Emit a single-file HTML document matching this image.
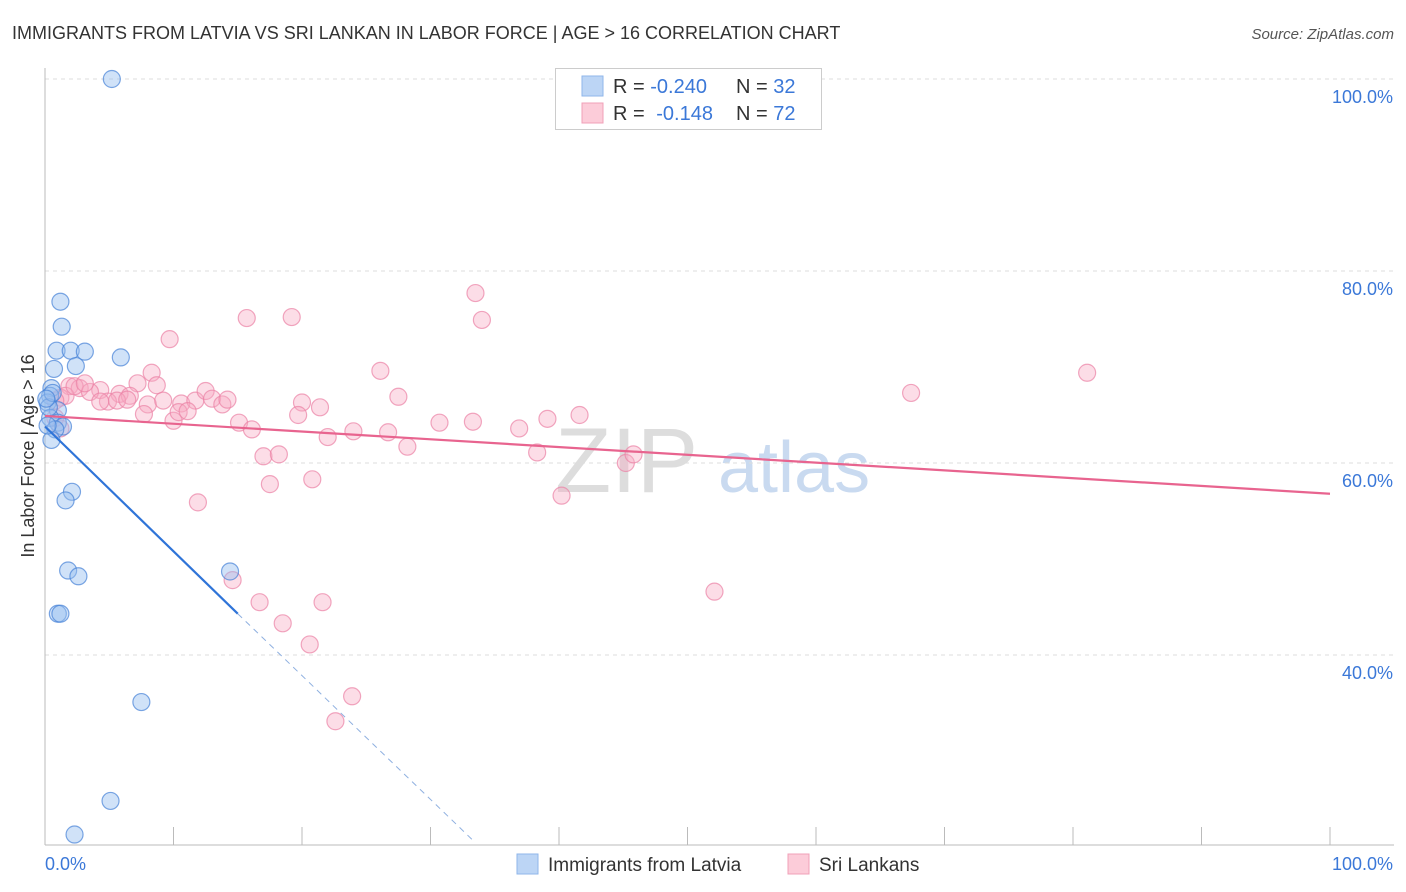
<!DOCTYPE html>
<html><head><meta charset="utf-8"><style>
body{margin:0;background:#fff;font-family:"Liberation Sans",sans-serif;overflow:hidden;width:1406px;height:892px;}
svg{display:block;}
svg text{font-family:"Liberation Sans",sans-serif;}
</style></head><body>
<svg id="chart" width="1406" height="892" xmlns="http://www.w3.org/2000/svg">
<text x="12" y="39" font-size="18" fill="#333">IMMIGRANTS FROM LATVIA VS SRI LANKAN IN LABOR FORCE | AGE &gt; 16 CORRELATION CHART</text>
<text x="1394" y="39" font-size="15" fill="#555" font-style="italic" text-anchor="end">Source: ZipAtlas.com</text>
<g>
<text x="555" y="492" font-size="92" fill="#ddd" font-family="Liberation Serif">ZIP</text>
<text x="718" y="492" font-size="72" fill="#c9daf0">atlas</text>
</g>
<g id="grid"></g>
<g id="axes"></g>
<g id="pts"></g>
<g id="trend"></g>
<g>
<rect x="555.5" y="68.5" width="266" height="61" fill="#fff" stroke="#ccc"/>
<rect x="582" y="76" width="21" height="20" fill="#bcd5f5" stroke="#8fb6ea"/>
<rect x="582" y="103" width="21" height="20" fill="#fcccd9" stroke="#f0a0b8"/>
<text x="613" y="93" font-size="20" fill="#333">R = <tspan fill="#3b78d8">-0.240</tspan></text>
<text x="736" y="93" font-size="20" fill="#333">N = <tspan fill="#3b78d8">32</tspan></text>
<text x="613" y="120" font-size="20" fill="#333">R = <tspan fill="#3b78d8" dx="6">-0.148</tspan></text>
<text x="736" y="120" font-size="20" fill="#333">N = <tspan fill="#3b78d8">72</tspan></text>
</g>
<text x="34" y="456" font-size="18" fill="#333" text-anchor="middle" transform="rotate(-90 34 456)">In Labor Force | Age &gt; 16</text>
<g>
<rect x="517" y="854" width="21" height="20" fill="#bcd5f5" stroke="#8fb6ea"/>
<text x="548" y="871" font-size="19" fill="#333">Immigrants from Latvia</text>
<rect x="788" y="854" width="21" height="20" fill="#fcccd9" stroke="#f0a0b8"/>
<text x="819" y="871" font-size="19" fill="#333">Sri Lankans</text>
</g>
</svg>
<script>
const yTicks=[100,80,60,40];
const yTickLabels=["100.0%","80.0%","60.0%","40.0%"];
const xTicks=[0,10,20,30,40,50,60,70,80,90,100];
const latviaX=[5.2,1.2,1.3,0.9,2.0,3.1,5.9,0.7,2.4,0.5,0.4,0.2,1.0,0.4,1.0,1.4,0.8,0.5,2.1,1.6,1.8,2.6,1.0,1.2,14.4,7.5,5.1,2.3,0.2,0.3,0.6,0.1];
const latviaY=[100,76.8,74.2,71.7,71.7,71.6,71.0,69.8,70.1,67.8,67.0,66.3,65.5,64.7,64.2,63.8,63.5,62.4,57.0,56.1,48.8,48.2,44.3,44.3,48.7,35.1,24.8,21.3,63.9,65.8,67.3,66.7];
const lankaX=[9.7,15.7,19.2,33.5,34.0,26.1,81.1,67.4,27.5,8.3,8.7,7.2,1.9,2.7,4.3,3.5,5.8,6.6,4.9,5.6,6.4,8.0,9.2,10.6,11.7,12.5,13.0,13.8,14.2,7.7,10.0,10.4,11.1,15.1,16.1,20.0,19.7,21.4,22.0,24.0,26.7,28.2,30.7,33.3,36.9,38.3,39.1,41.6,45.2,45.8,17.0,18.2,17.5,20.8,11.9,40.2,14.6,16.7,21.6,18.5,20.6,52.1,23.9,22.6,1.2,1.6,0.8,0.8,2.3,3.1,4.3,1.2];
const lankaY=[72.9,75.1,75.2,77.7,74.9,69.6,69.4,67.3,66.9,69.4,68.1,68.3,68.0,67.8,67.6,67.4,67.2,67.0,66.4,66.5,66.6,66.1,66.5,66.2,66.5,67.5,66.7,66.1,66.6,65.1,64.4,65.3,65.4,64.2,63.5,66.3,65.0,65.8,62.7,63.3,63.2,61.7,64.2,64.3,63.6,61.1,64.6,65.0,60.0,60.9,60.7,60.9,57.8,58.3,55.9,56.6,47.8,45.5,45.5,43.3,41.1,46.6,35.7,33.1,66.8,67.0,64.7,66.5,68.0,68.3,66.4,63.6];
const latviaTrend=[0,63.8,15,44.3];
const latviaDash=[15,44.3,33.3,20.7];
const lankaTrend=[0,64.9,100,56.8];
const X=v=>45+v*12.85, Y=v=>79+(100-v)*9.6;
const NS="http://www.w3.org/2000/svg";
function mk(t,a,parent){const e=document.createElementNS(NS,t);for(const k in a)e.setAttribute(k,a[k]);parent.appendChild(e);return e;}
const grid=document.getElementById('grid'),axes=document.getElementById('axes'),pts=document.getElementById('pts'),tr=document.getElementById('trend');
yTicks.forEach((t,i)=>{
 const l=mk('line',{x1:45,x2:1394,y1:Y(t),y2:Y(t),stroke:'#ddd','stroke-dasharray':'4,4'},grid);
 
 
 const tx=mk('text',{x:1393,y:Y(t)+24,'font-size':18,fill:'#3b78d8','text-anchor':'end'},axes);
 tx.textContent=yTickLabels[i];
 
 
});
const ya=mk('line',{x1:45,x2:45,y1:68,y2:845,stroke:'#bbb'},axes);


const xa=mk('line',{x1:45,x2:1394,y1:845,y2:845,stroke:'#bbb'},axes);


xTicks.forEach(t=>{
 const l=mk('line',{x1:X(t),x2:X(t),y1:827,y2:845,stroke:'#bbb'},axes);
 
 
});
const x0=mk('text',{x:45,y:870,'font-size':18,fill:'#3b78d8'},axes);x0.textContent='0.0%';


const x1=mk('text',{x:1393,y:870,'font-size':18,fill:'#3b78d8','text-anchor':'end'},axes);x1.textContent='100.0%';


lankaX.forEach((v,i)=>{
 const c=mk('circle',{cx:X(v),cy:Y(lankaY[i]),r:8.5,fill:'rgba(248,170,195,0.4)',stroke:'rgba(235,130,165,0.7)','stroke-width':1.2},pts);
 
 
});
latviaX.forEach((v,i)=>{
 const c=mk('circle',{cx:X(v),cy:Y(latviaY[i]),r:8.5,fill:'rgba(150,190,240,0.45)',stroke:'rgba(70,130,215,0.7)','stroke-width':1.2},pts);
 
 
});
const l1=mk('line',{x1:X(lankaTrend[0]),y1:Y(lankaTrend[1]),x2:X(lankaTrend[2]),y2:Y(lankaTrend[3]),stroke:'#e8648f','stroke-width':2.2},tr);


const l2=mk('line',{x1:X(latviaTrend[0]),y1:Y(latviaTrend[1]),x2:X(latviaTrend[2]),y2:Y(latviaTrend[3]),stroke:'#2f74d8','stroke-width':2.2},tr);


const l3=mk('line',{x1:X(latviaDash[0]),y1:Y(latviaDash[1]),x2:X(latviaDash[2]),y2:Y(latviaDash[3]),stroke:'#8fb0e0','stroke-width':1,'stroke-dasharray':'6,5'},tr);


</script>
</body></html>
